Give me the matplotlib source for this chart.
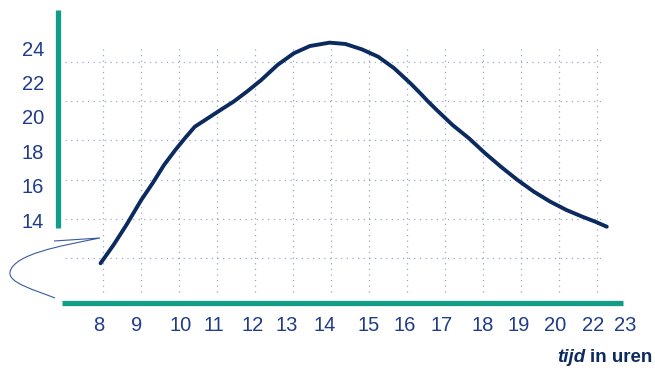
import matplotlib
matplotlib.use("Agg")
import matplotlib.pyplot as plt
from matplotlib.lines import Line2D
from matplotlib.path import Path
from matplotlib.patches import PathPatch

# ---- data ----
hours = [7.94, 8.28, 8.62, 9.01, 9.31, 9.61, 9.91, 10.16, 10.42, 10.76, 11.10,
         11.44, 11.79, 12.17, 12.60, 13.03, 13.45, 13.97, 14.39, 14.82, 15.25,
         15.67, 16.10, 16.36, 16.57, 16.79, 17.21, 17.64, 18.07, 18.50, 18.92,
         19.35, 19.78, 20.21, 20.63, 20.97, 21.27]
temps = [11.48, 12.54, 13.71, 15.16, 16.14, 17.20, 18.08, 18.76, 19.43, 19.92, 20.41,
         20.89, 21.47, 22.15, 23.03, 23.71, 24.13, 24.33, 24.25, 23.94, 23.51,
         22.84, 21.96, 21.38, 20.89, 20.41, 19.53, 18.76, 17.88, 17.07, 16.33,
         15.65, 15.07, 14.58, 14.19, 13.90, 13.61]
ytick_vals = [14, 16, 18, 20, 22, 24]
ytick_labels = ["14", "16", "18", "20", "22", "24"]
xtick_pos = [7.88, 8.88, 10.05, 10.92, 11.95, 12.85, 13.85, 15.0, 15.95, 16.92,
             18.0, 18.95, 19.92, 20.9, 21.75]
xtick_labels = ["8", "9", "10", "11", "12", "13", "14", "15", "16", "17",
                "18", "19", "20", "22", "23"]
grid_x = [8, 9, 10, 11, 12, 13, 14, 15, 16, 17, 18, 19, 20, 21]
grid_y = [23.20, 20.93, 18.66, 16.33, 14.06, 11.79]

# ---- style ----
W, H = 655, 371
GREEN = "#139c86"
BLUE = "#1f3c88"
NAVY = "#0b2a5f"
GRID = "#9aa8c8"
FONT = ["Liberation Sans Narrow", "Liberation Sans", "DejaVu Sans"]

def px(x, y):
    return x / W, 1 - y / H

fig = plt.figure(figsize=(W / 100, H / 100), dpi=100)
ax = fig.add_axes([60 / W, (H - 305) / H, 565 / W, 295 / H])
ax.set_xlim(6.872, 21.359)
ax.set_ylim(9.05, 26.23)
for s in ax.spines.values():
    s.set_visible(False)
ax.patch.set_alpha(0)

# grid
ax.vlines(grid_x, 9.81, 24.19, colors=GRID, linestyles=(0, (1, 3.5)), linewidth=0.9)
ax.hlines(grid_y, 7.0, 21.18, colors=GRID, linestyles=(0, (1, 3.5)), linewidth=0.9)

# curve
ax.plot(hours, temps, color=NAVY, linewidth=2.8, solid_capstyle="round",
        solid_joinstyle="round", zorder=5)

# ticks
ax.set_yticks(ytick_vals, ytick_labels)
ax.set_xticks(xtick_pos, xtick_labels)
ax.tick_params(axis="y", length=0, pad=11.5, labelcolor=BLUE, labelsize=14.5)
ax.tick_params(axis="x", length=0, pad=8, labelcolor=BLUE, labelsize=14.5)
for lab in ax.get_xticklabels() + ax.get_yticklabels():
    lab.set_family(FONT)

# green axis bars
x0, y0 = px(58.5, 10)
x1, y1 = px(58.5, 228)
fig.add_artist(Line2D([x0, x1], [y0, y1], color=GREEN, linewidth=3.8,
                      solid_capstyle="butt"))
x0, y0 = px(62, 303)
x1, y1 = px(623, 303)
fig.add_artist(Line2D([x0, x1], [y0, y1], color=GREEN, linewidth=3.8,
                      solid_capstyle="butt"))

# axis-break squiggle
verts_px = [(54, 241), (100, 238), (60, 246), (14, 254), (10, 272),
            (8, 283), (35, 290), (55, 298)]
codes = [Path.MOVETO, Path.LINETO, Path.CURVE4, Path.CURVE4, Path.CURVE4,
         Path.CURVE4, Path.CURVE4, Path.CURVE4]
verts = [px(a, b) for a, b in verts_px]
fig.add_artist(PathPatch(Path(verts, codes), facecolor="none", edgecolor="#3a5aa0",
                         linewidth=0.8, transform=fig.transFigure))

# x label
t1 = fig.text(652 / W, 1 - 357 / H, "in uren", ha="right", va="center",
              color=NAVY, fontsize=13.5, fontweight="bold", family=FONT)
fig.canvas.draw()
bb = t1.get_window_extent()
fig.text((bb.x0 - 4) / W, 1 - 357 / H, "tijd", ha="right", va="center",
         color=NAVY, fontsize=13.5, fontweight="bold", fontstyle="italic", family=FONT)

fig.savefig("out.png", dpi=100)
